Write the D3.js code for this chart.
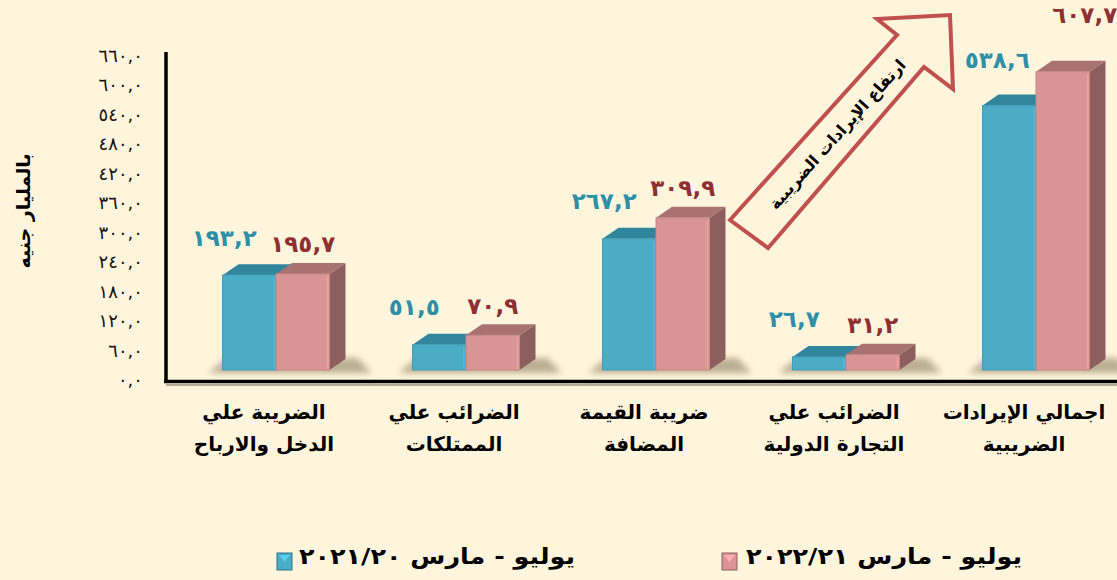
<!DOCTYPE html>
<html lang="ar">
<head>
<meta charset="utf-8">
<script src="https://cdn.jsdelivr.net/npm/d3@7.9.0/dist/d3.min.js"></script>
<style>
  html, body { margin: 0; padding: 0; background: #fff5dc; }
  svg { display: block; font-family: "DejaVu Sans", sans-serif; }
</style>
</head>
<body>
<svg id="chart" width="1117" height="580"></svg>
<script>
// categories (two lines each)
const categories = [
  ['الضريبة علي', 'الدخل والارباح'],
  ['الضرائب علي', 'الممتلكات'],
  ['ضريبة القيمة', 'المضافة'],
  ['الضرائب علي', 'التجارة الدولية'],
  ['اجمالي الإيرادات', 'الضريبية']
];
const seriesNames = ['يوليو - مارس ٢٠٢١/٢٠', 'يوليو - مارس ٢٠٢٢/٢١'];
const values2021 = [193.2, 51.5, 267.2, 26.7, 538.6];
const values2022 = [195.7, 70.9, 309.9, 31.2, 607.7];
const yTicks = [0, 60, 120, 180, 240, 300, 360, 420, 480, 540, 600, 660];

const colors = [
  { front: '#4bacc6', top: '#31859c', side: '#2d7387', label: '#2e8fa8' },
  { front: '#d99594', top: '#a87272', side: '#8c5e5e', label: '#8e2f33' }
];

const arDigits = '٠١٢٣٤٥٦٧٨٩';
const toAr = s => String(s).replace(/[0-9]/g, d => arDigits[d]);
const fmt = v => toAr(v.toFixed(1)).replace('.', ',');

const svg = d3.select('#chart');
const keys = categories.map((c, i) => i);

const y = d3.scaleLinear().domain([0, 660]).range([381, 57]);
const x0 = d3.scaleBand().domain(keys).range([181, 1131])
  .paddingInner(0.437).paddingOuter(0.2185);
const x1 = d3.scaleBand().domain([0, 1]).range([0, x0.bandwidth()]);

const dx = 16, dy = 11;

const defs = svg.append('defs');
defs.append('filter').attr('id', 'blur')
  .attr('x', '-20%').attr('y', '-50%').attr('width', '140%').attr('height', '200%')
  .append('feGaussianBlur').attr('stdDeviation', 3);

// y axis labels
svg.append('g')
  .selectAll('text')
  .data(yTicks)
  .join('text')
  .attr('x', 143)
  .attr('y', d => y(d))
  .attr('text-anchor', 'end')
  .attr('dominant-baseline', 'middle')
  .attr('font-size', 18)
  .attr('fill', '#111')
  .text(d => toAr(d) + ',' + toAr(0));

// y title
svg.append('text')
  .attr('transform', 'translate(24,211) rotate(-90)')
  .attr('text-anchor', 'middle')
  .attr('dominant-baseline', 'middle')
  .attr('direction', 'rtl')
  .attr('font-size', 19)
  .attr('font-weight', 'bold')
  .text('بالمليار جنيه');

// floor shadows
const groups = svg.append('g');
keys.forEach(i => {
  const gx = x0(i);
  const w = x0.bandwidth();
  groups.append('polygon')
    .attr('points', [[gx - 14, 373], [gx + w + dx + 26, 373], [gx + w + dx + 12, 358], [gx + 4, 358]].join(' '))
    .attr('fill', '#6b5a3a')
    .attr('opacity', 0.45)
    .attr('filter', 'url(#blur)');
});

// bars
const series = [values2021, values2022];
const base = y(0) - dy;
keys.forEach(i => {
  series.forEach((vals, s) => {
    const c = colors[s];
    const bx = x0(i) + x1(s);
    const w = x1.bandwidth();
    const top = y(vals[i]) - dy;
    const g = groups.append('g');
    g.append('polygon')
      .attr('points', [[bx + w, top], [bx + w + dx, top - dy], [bx + w + dx, base - dy], [bx + w, base]].join(' '))
      .attr('fill', c.side);
    g.append('polygon')
      .attr('points', [[bx, top], [bx + dx, top - dy], [bx + w + dx, top - dy], [bx + w, top]].join(' '))
      .attr('fill', c.top);
    g.append('rect')
      .attr('x', bx).attr('y', top)
      .attr('width', w).attr('height', base - top)
      .attr('fill', c.front)
      .attr('stroke', d3.color(c.front).darker(0.25))
      .attr('stroke-width', 1);
    g.append('line')
      .attr('x1', bx + w - 2).attr('x2', bx + w - 2)
      .attr('y1', top + 2).attr('y2', base - 1)
      .attr('stroke', d3.color(c.front).brighter(0.3))
      .attr('stroke-width', 2)
      .attr('opacity', 0.6);
  });
});

// axes lines
svg.append('line').attr('x1', 166).attr('x2', 1117).attr('y1', 385).attr('y2', 385)
  .attr('stroke', '#9a9080').attr('stroke-width', 1.5);
svg.append('line').attr('x1', 166).attr('x2', 166).attr('y1', 52).attr('y2', 383)
  .attr('stroke', '#000').attr('stroke-width', 3.5);
svg.append('line').attr('x1', 164).attr('x2', 1117).attr('y1', 381.5).attr('y2', 381.5)
  .attr('stroke', '#000').attr('stroke-width', 3.5);

// value labels
const lift = [[36, 28], [36, 28], [36, 28], [36, 28], [44, 55]];
const shiftX = [[-25, 0], [-25, 0], [-25, 0], [-25, 0], [-12, 22]];
keys.forEach(i => {
  series.forEach((vals, s) => {
    const cx = x0(i) + x1(s) + x1.bandwidth() / 2;
    svg.append('text')
      .attr('x', cx + shiftX[i][s])
      .attr('y', y(vals[i]) - dy - lift[i][s])
      .attr('text-anchor', 'middle')
      .attr('dominant-baseline', 'middle')
      .attr('font-size', 23)
      .attr('font-weight', 'bold')
      .attr('fill', colors[s].label)
      .text(fmt(vals[i]));
  });
});

// category labels
keys.forEach(i => {
  const cx = x0(i) + x0.bandwidth() / 2 - 12;
  categories[i].forEach((line, k) => {
    svg.append('text')
      .attr('x', cx)
      .attr('y', 413 + k * 32)
      .attr('text-anchor', 'middle')
      .attr('dominant-baseline', 'middle')
      .attr('direction', 'rtl')
      .attr('font-size', 20)
      .attr('font-weight', 'bold')
      .text(line);
  });
});

// arrow annotation
svg.append('polygon')
  .attr('points', '730,220 897,35 877,19 950,15 953,89 924,67 768,248')
  .attr('fill', 'none')
  .attr('stroke', '#c0504d')
  .attr('stroke-width', 4)
  .attr('stroke-linejoin', 'miter');
svg.append('text')
  .attr('transform', 'translate(838,135) rotate(-48)')
  .attr('text-anchor', 'middle')
  .attr('dominant-baseline', 'middle')
  .attr('direction', 'rtl')
  .attr('font-size', 16)
  .attr('font-weight', 'bold')
  .text('ارتفاع الإيرادات الضريبية');

// legend
const legend = [
  { name: seriesNames[0], mx: 277, tx: 437, c: colors[0] },
  { name: seriesNames[1], mx: 722, tx: 884, c: colors[1] }
];
legend.forEach(d => {
  const g = svg.append('g');
  g.append('rect').attr('x', d.mx).attr('y', 553).attr('width', 15).attr('height', 17)
    .attr('fill', d.c.front).attr('stroke', d.c.side).attr('stroke-width', 1);
  g.append('polygon')
    .attr('points', [[d.mx + 2, 555], [d.mx + 13, 555], [d.mx + 7.5, 562]].join(' '))
    .attr('fill', d3.color(d.c.front).brighter(0.5));
  g.append('text')
    .attr('x', d.tx).attr('y', 558)
    .attr('text-anchor', 'middle')
    .attr('dominant-baseline', 'middle')
    .attr('direction', 'rtl')
    .attr('font-size', 22)
    .attr('font-weight', 'bold')
    .attr('textLength', 276)
    .attr('lengthAdjust', 'spacingAndGlyphs')
    .text(d.name);
});
</script>
</body>
</html>
